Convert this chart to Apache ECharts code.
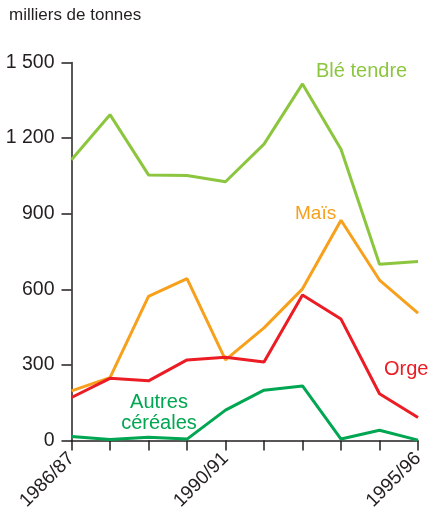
<!DOCTYPE html>
<html><head><meta charset="utf-8">
<script src="https://cdn.jsdelivr.net/npm/echarts@6/dist/echarts.min.js"></script>
<style>html,body{margin:0;padding:0;background:#fff}#c{width:430px;height:513px}</style>
</head><body><div id="c"></div>
<script>
const categories = ['1986/87','1987/88','1988/89','1989/90','1990/91','1991/92','1992/93','1993/94','1994/95','1995/96'];
const shownLabels = ['1986/87','1990/91','1995/96'];
const bleTendre = [1114, 1293, 1054, 1052, 1027, 1176, 1415, 1156, 700, 711];
const mais = [197, 250, 572, 643, 320, 447, 602, 874, 637, 506];
const orge = [171, 247, 237, 320, 331, 312, 578, 482, 186, 92];
const autres = [16, 4, 13, 6, 121, 200, 217, 6, 41, 2];
const yTicks = [0, 300, 600, 900, 1200, 1500];

const C = {ble:'#8cc63f', mais:'#f7a01c', orge:'#ec1c24', autres:'#00a651', axis:'#231f20'};
const FONT = 'Liberation Sans';
const chart = echarts.init(document.getElementById('c'));
function line(name, data, color){
  return {name, type:'line', data, symbol:'none', lineStyle:{color, width:3}, itemStyle:{color}, z:3};
}
chart.setOption({
  animation:false,
  grid:{left:71.5, right:12, top:62.5, bottom:69.7},
  xAxis:{type:'category', data:categories, boundaryGap:false,
    axisLine:{lineStyle:{color:C.axis, width:1.5}},
    axisTick:{alignWithLabel:true, interval:0, length:10, lineStyle:{color:C.axis, width:1.5}},
    axisLabel:{interval:(i,v)=>shownLabels.includes(v), rotate:45, fontSize:19, color:C.axis, fontFamily:FONT, margin:15}
  },
  yAxis:{type:'value', min:yTicks[0], max:yTicks[yTicks.length-1], interval:300,
    axisLine:{show:true, lineStyle:{color:C.axis, width:1.5}},
    axisTick:{show:true, length:10, lineStyle:{color:C.axis, width:1.5}},
    splitLine:{show:false},
    axisLabel:{fontSize:19.5, color:C.axis, fontFamily:FONT, margin:17,
      formatter:v=>String(v).replace(/\B(?=(\d{3})+(?!\d))/g,' ')}
  },
  graphic:[
    {type:'text', left:9, top:7, style:{text:'milliers de tonnes', fontSize:17, fill:C.axis, fontFamily:FONT}},
    {type:'text', left:316, top:61, style:{text:'Blé tendre', fontSize:20, fill:C.ble, fontFamily:FONT}},
    {type:'text', left:295, top:204, style:{text:'Maïs', fontSize:19, fill:C.mais, fontFamily:FONT}},
    {type:'text', left:384, top:359, style:{text:'Orge', fontSize:20, fill:C.orge, fontFamily:FONT}},
    {type:'text', x:159, y:392, style:{text:'Autres\ncéréales', fontSize:20, lineHeight:21, textAlign:'center', textVerticalAlign:'top', verticalAlign:'top', fill:C.autres, fontFamily:FONT}}
  ],
  series:[
    line('Blé tendre', bleTendre, C.ble),
    line('Maïs', mais, C.mais),
    line('Orge', orge, C.orge),
    line('Autres céréales', autres, C.autres)
  ]
});
</script></body></html>
